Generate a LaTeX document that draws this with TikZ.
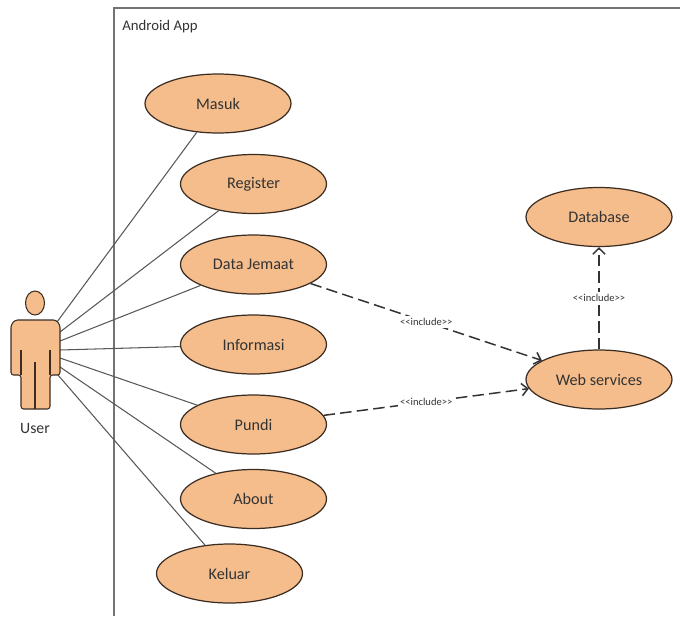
\documentclass[tikz,border=0pt]{standalone}
\usepackage{fontspec}
\setmainfont{Carlito}
\usetikzlibrary{arrows.meta,shapes.geometric}
\definecolor{usefill}{RGB}{245,189,140}
\definecolor{useline}{RGB}{60,45,35}
\newcommand{\incltext}{<\kern0pt<include>\kern0pt>}
\tikzset{
 usecase/.style={ellipse, draw=useline, fill=usefill, line width=0.7pt, inner sep=0pt,
  minimum width=2.92cm, minimum height=1.18cm, text=black!80, font=\fontsize{9.2}{11}\selectfont},
 assoc/.style={draw=black!65, line width=0.6pt},
 incl/.style={-{Straight Barb[length=3.5pt,width=7pt]}, draw=black!80, line width=0.85pt, dash pattern=on 6.5pt off 3pt},
 incllabel/.style={fill=white, inner sep=1.5pt, text=black!80, font=\fontsize{6}{7}\selectfont}
}
\begin{document}
\begin{tikzpicture}[x=0.02cm, y=-0.02cm]
 \useasboundingbox (0,0) rectangle (680,616);
 \fill[white] (0,0) rectangle (680,616);
 \draw[draw=black!55, line width=1.1pt] (680,8) -- (114,8) -- (114,616);
 \node (App) [anchor=west, inner sep=0pt, text=black!80, font=\fontsize{8.4}{10}\selectfont] at (122,27) {Android App};

 \coordinate (U1) at (57,322);
 \coordinate (U2) at (60,332);
 \coordinate (U3) at (60,341);
 \coordinate (U4) at (60,350);
 \coordinate (U5) at (60,358);
 \coordinate (U6) at (60,367);
 \coordinate (U7) at (58,375);

 \node (Masuk) [usecase] at (218,103.5) {Masuk};
 \node (Register) [usecase] at (253.5,184) {Register};
 \node (Data) [usecase] at (253.5,264.5) {Data Jemaat};
 \node (Info) [usecase] at (253.5,344.5) {Informasi};
 \node (Pundi) [usecase] at (253.5,424.5) {Pundi};
 \node (About) [usecase] at (253.5,499) {About};
 \node (Keluar) [usecase] at (229.5,573.5) {Keluar};
 \node (Database) [usecase] at (599,217) {Database};
 \node (Web) [usecase] at (599,379.5) {Web services};

 \draw[assoc] (U1) -- (Masuk);
 \draw[assoc] (U2) -- (Register);
 \draw[assoc] (U3) -- (Data);
 \draw[assoc] (U4) -- (Info);
 \draw[assoc] (U5) -- (Pundi);
 \draw[assoc] (U6) -- (About);
 \draw[assoc] (U7) -- (Keluar);

 \draw[incl] (Data) to node [incllabel] {\incltext} (Web);
 \draw[incl] (Pundi) to node [incllabel] {\incltext} (Web);
 \draw[incl] (Web) to node [incllabel] {\incltext} (Database);

 \draw[draw=useline, fill=usefill, line width=0.6pt] (35,303) ellipse (9.5 and 12);
 \draw[draw=useline, fill=usefill, line width=0.6pt, rounded corners=1.5pt]
  (15,320) -- (56,320) -- (60,325) -- (60,375) -- (50,375) -- (50,409)
  -- (21,409) -- (21,375) -- (11,375) -- (11,325) -- cycle;
 \draw[draw=useline, line width=0.6pt] (21,350) -- (21,375);
 \draw[draw=useline, line width=0.6pt] (50,350) -- (50,375);
 \draw[draw=useline, line width=0.6pt] (35,362) -- (35,409);
 \node (User) [inner sep=0pt, text=black!80, font=\fontsize{9}{11}\selectfont] at (35,428) {User};
\end{tikzpicture}
\end{document}
